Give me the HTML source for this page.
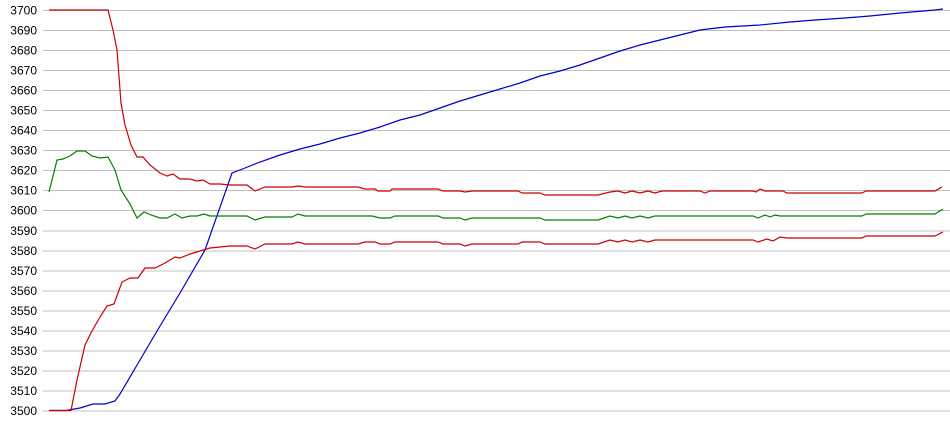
<!DOCTYPE html>
<html><head><style>
html,body{margin:0;padding:0;background:#fff;}
svg{display:block;}
text{font-family:"Liberation Sans",sans-serif;font-size:12px;fill:#000;}
</style></head><body>
<svg width="950" height="435" viewBox="0 0 950 435">
<g stroke="#c0c0c0" stroke-width="1">
<line x1="43" y1="10.5" x2="950" y2="10.5"/><line x1="43" y1="30.5" x2="950" y2="30.5"/><line x1="43" y1="50.5" x2="950" y2="50.5"/><line x1="43" y1="70.5" x2="950" y2="70.5"/><line x1="43" y1="90.5" x2="950" y2="90.5"/><line x1="43" y1="110.5" x2="950" y2="110.5"/><line x1="43" y1="130.5" x2="950" y2="130.5"/><line x1="43" y1="150.5" x2="950" y2="150.5"/><line x1="43" y1="170.5" x2="950" y2="170.5"/><line x1="43" y1="190.5" x2="950" y2="190.5"/><line x1="43" y1="210.5" x2="950" y2="210.5"/><line x1="43" y1="231" x2="950" y2="231"/><line x1="43" y1="251" x2="950" y2="251"/><line x1="43" y1="271" x2="950" y2="271"/><line x1="43" y1="291" x2="950" y2="291"/><line x1="43" y1="311" x2="950" y2="311"/><line x1="43" y1="331" x2="950" y2="331"/><line x1="43" y1="351" x2="950" y2="351"/><line x1="43" y1="371" x2="950" y2="371"/><line x1="43" y1="391" x2="950" y2="391"/><line x1="43" y1="411" x2="950" y2="411"/>
</g>
<g text-anchor="end">
<text x="37" y="14.5">3700</text><text x="37" y="34.5">3690</text><text x="37" y="54.5">3680</text><text x="37" y="74.5">3670</text><text x="37" y="94.5">3660</text><text x="37" y="114.5">3650</text><text x="37" y="134.5">3640</text><text x="37" y="154.5">3630</text><text x="37" y="174.5">3620</text><text x="37" y="194.5">3610</text><text x="37" y="214.5">3600</text><text x="37" y="235">3590</text><text x="37" y="255">3580</text><text x="37" y="275">3570</text><text x="37" y="295">3560</text><text x="37" y="315">3550</text><text x="37" y="335">3540</text><text x="37" y="355">3530</text><text x="37" y="375">3520</text><text x="37" y="395">3510</text><text x="37" y="415">3500</text>
</g>
<g fill="none" stroke-width="1.2">
<polyline stroke="#0000cc" points="49,410.5 66,410.5 80,408 93,404 105,404 115,401 120,394 140,360 160,326 180,293 205,250 232,173 240,170 260,162 280,155 300,149 320,144 340,138 360,133 380,127 400,120 420,115 440,108 460,101 480,95 500,89 520,83 540,76 560,71 580,65 600,58 620,51 640,45 660,40 680,35 700,30 725,27 760,25 790,22 815,20 845,18 870,16 900,13 935,10 943,9"/>
<polyline stroke="#008000" points="49,192 57,160 63,159 70,156 77,151 85,151 92,156 100,158 108,157 115,170 121,190 130,204 137,218 144,212 151,215 160,218 167,218 175,214 182,218 190,216 197,216 204,214 210,216 247,216 255,220 265,217 292,217 298,214 305,216 372,216 380,218 390,218 395,216 438,216 443,218 460,218 465,220 472,218 540,218 545,220 598,220 610,216 618,218 625,216 632,218 640,216 648,218 655,216 700,216 706,216 753,216 758,218 765,215 770,217 775,215 780,216 787,216 862,216 866,214 935,214 943,209"/>
<polyline stroke="#cc0000" points="49,10 108,10 113,30 117,50 121,103 125,125 131,145 137,157 143,157 150,165 160,173 167,176 173,174 180,179 190,179 197,181 203,180 210,184 220,184 230,185 247,185 255,191 265,187 292,187 298,186 305,187 358,187 365,189 375,189 378,191 390,191 392,189 438,189 443,191 460,191 465,192 472,191 518,191 522,193 540,193 545,195 598,195 610,192 618,191 625,193 632,191 640,193 648,191 655,193 662,191 700,191 705,193 710,191 753,191 756,192 760,189 765,191 783,191 787,193 862,193 866,191 935,191 942,187"/>
<polyline stroke="#cc0000" points="49,410.5 71,410.5 77,380 85,345 92,331 100,317 107,306 114,304 122,282 130,278 138,278 145,268 155,268 165,263 175,257 180,258 190,254 200,251 210,248 230,246 247,246 255,249 265,244 292,244 298,242 305,244 358,244 365,242 375,242 380,244 390,244 395,242 438,242 443,244 460,244 465,246 472,244 518,244 522,242 540,242 545,244 598,244 610,240 618,242 625,240 632,242 640,240 648,242 655,240 700,240 706,240 753,240 758,242 767,239 773,241 780,237 787,238 862,238 866,236 935,236 943,232"/>
</g>
</svg>
</body></html>
